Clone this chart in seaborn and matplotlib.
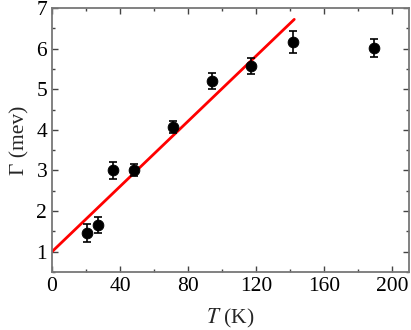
import matplotlib
matplotlib.use("Agg")
import matplotlib.pyplot as plt
import seaborn as sns
import numpy as np
import pandas as pd
from matplotlib.ticker import MultipleLocator

T = [20.4, 26.9, 35.7, 48.4, 71.0, 94.0, 117.0, 142.0, 189.4]
gamma = [1.46, 1.66, 3.00, 3.02, 4.08, 5.21, 5.57, 6.17, 6.02]
gamma_err = [0.22, 0.20, 0.22, 0.15, 0.15, 0.20, 0.20, 0.27, 0.22]
fit_T = [0.0, 142.5]
fit_gamma = [1.0, 6.72]

sns.set_theme(style="ticks")
plt.rcParams['font.family'] = ['Liberation Serif', 'DejaVu Serif']
plt.rcParams['mathtext.fontset'] = 'stix'

fig = plt.figure(figsize=(4.11, 3.30), dpi=100)
ax = fig.add_axes([52/411, 1 - 272/330, (409-52)/411, (272-8)/330])

df = pd.DataFrame({"T": T, "gamma": gamma})
fit = pd.DataFrame({"T": fit_T, "gamma": fit_gamma})
sns.lineplot(data=fit, x="T", y="gamma", ax=ax, color="#ff0000", linewidth=2.0)
ax.errorbar(T, gamma, yerr=gamma_err, fmt='none', ecolor='black', elinewidth=1.2, capsize=3, capthick=1.2)
sns.scatterplot(data=df, x="T", y="gamma", ax=ax, color="black", s=60, edgecolor="black", zorder=5)

ax.set_xlim(0, 210)
ax.set_ylim(0.5, 7)
ax.xaxis.set_major_locator(MultipleLocator(40))
ax.xaxis.set_minor_locator(MultipleLocator(20))
ax.yaxis.set_major_locator(MultipleLocator(1))
ax.yaxis.set_minor_locator(MultipleLocator(0.5))
ax.tick_params(which='both', direction='in', top=True, right=True, labelsize=15.5, labelcolor='black', color='#444444')
ax.tick_params(which='major', length=4, width=1)
ax.tick_params(which='minor', length=2.5, width=1)
for s in ax.spines.values():
    s.set_color('#777777')
    s.set_linewidth(1.3)
ax.set_xlabel("$T$ (K)", fontsize=15.5, labelpad=8)
ax.set_ylabel("Γ (mev)", fontsize=15.5, labelpad=5)

fig.savefig("out.png", dpi=100)
